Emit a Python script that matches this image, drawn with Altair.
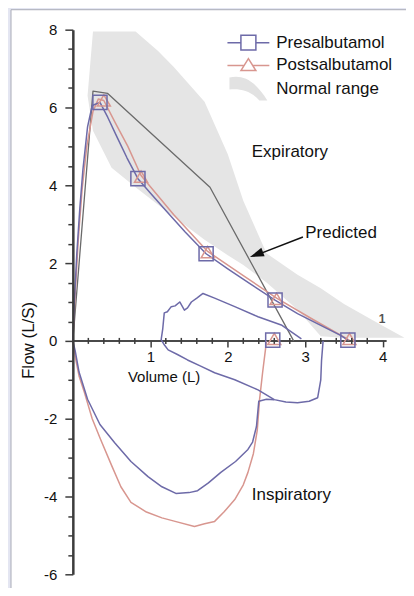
import altair as alt
import pandas as pd

# ---------------- data ----------------
# Normal range band (volume, upper flow, lower flow)
nr_vol = [0.19, 0.26, 0.50, 0.81, 1.10, 1.30, 1.70, 2.00, 2.20, 2.50, 2.90, 3.20, 3.50, 3.90, 4.28]
nr_upper = [6.30, 7.95, 7.95, 7.95, 7.45, 7.05, 6.15, 4.80, 3.60, 2.25, 1.70, 1.35, 0.95, 0.50, 0.08]
nr_lower = [6.30, 5.40, 4.45, 3.95, 3.50, 3.20, 2.60, 2.20, 1.95, 1.50, 0.80, 0.12, 0.08, 0.08, 0.08]

# Predicted expiratory curve
pred_vol = [0.00, 0.26, 0.45, 1.77, 2.85]
pred_flow = [0.00, 6.42, 6.36, 3.95, 0.00]

# Presalbutamol expiratory curve
pre_exp_vol = [0.00, 0.02, 0.05, 0.09, 0.13, 0.19, 0.25, 0.35, 0.45, 0.58, 0.70, 0.84, 1.00, 1.20, 1.45, 1.72, 2.00, 2.30, 2.61, 2.90, 3.20, 3.45, 3.55]
pre_exp_flow = [0.00, 1.00, 2.20, 3.40, 4.40, 5.50, 6.05, 6.13, 5.75, 5.20, 4.70, 4.17, 3.80, 3.35, 2.80, 2.24, 1.85, 1.45, 1.05, 0.70, 0.40, 0.15, 0.02]

# Postsalbutamol expiratory curve
post_exp_vol = [0.00, 0.03, 0.07, 0.12, 0.18, 0.26, 0.33, 0.40, 0.55, 0.71, 0.88, 1.30, 1.74, 2.20, 2.63, 3.10, 3.57]
post_exp_flow = [0.00, 1.20, 2.60, 3.90, 5.00, 5.90, 6.22, 6.18, 5.60, 5.00, 4.25, 3.25, 2.30, 1.68, 1.10, 0.55, 0.02]

# Presalbutamol inspiratory curve
pre_insp_vol = [0.00, 0.03, 0.08, 0.19, 0.35, 0.54, 0.75, 0.97, 1.15, 1.33, 1.50, 1.61, 1.75, 1.91, 2.10, 2.26, 2.32, 2.37, 2.40, 2.50, 2.60]
pre_insp_flow = [0.00, -0.25, -0.80, -1.50, -2.15, -2.62, -3.10, -3.49, -3.75, -3.92, -3.90, -3.85, -3.65, -3.38, -3.10, -2.79, -2.60, -2.20, -1.55, -1.50, -1.51]

# Postsalbutamol inspiratory curve
post_insp_vol = [0.00, 0.04, 0.08, 0.15, 0.25, 0.36, 0.50, 0.62, 0.75, 0.95, 1.15, 1.32, 1.57, 1.70, 1.83, 1.95, 2.09, 2.20, 2.26, 2.33, 2.38, 2.41, 2.45, 2.50]
post_insp_flow = [0.00, -0.50, -0.90, -1.33, -2.00, -2.54, -3.20, -3.75, -4.15, -4.40, -4.55, -4.64, -4.77, -4.70, -4.64, -4.40, -4.08, -3.70, -3.38, -2.90, -2.30, -1.51, -0.80, 0.00]

# Presalbutamol tidal loop
loop_vol = [2.95, 2.69, 2.39, 2.09, 1.83, 1.68, 1.60, 1.53, 1.48, 1.44, 1.38, 1.32, 1.27, 1.22, 1.18, 1.16, 1.14,
            1.18, 1.23, 1.35, 1.48, 1.65, 1.83, 2.09, 2.39, 2.60, 2.75, 2.90, 3.05, 3.16, 3.20, 3.21, 3.23]
loop_flow = [0.05, 0.41, 0.62, 0.88, 1.10, 1.22, 1.10, 1.00, 0.85, 0.79, 1.00, 0.90, 0.88, 0.75, 0.72, 0.30, 0.03,
             -0.10, -0.23, -0.35, -0.49, -0.65, -0.82, -1.00, -1.26, -1.51, -1.57, -1.59, -1.55, -1.46, -1.00, -0.50, 0.00]

# Markers
pre_mark_vol = [0.35, 0.84, 1.72, 2.61, 3.55, 2.58]
pre_mark_flow = [6.13, 4.17, 2.24, 1.05, 0.02, 0.02]
post_mark_vol = [0.40, 0.88, 1.74, 2.63, 3.57, 2.60]
post_mark_flow = [6.18, 4.22, 2.28, 1.08, 0.05, 0.05]

# Axis ticks
x_major = [1, 2, 3, 4]
x_minor = [0.2, 0.4, 0.6, 0.8, 1.2, 1.4, 1.6, 1.8, 2.2, 2.4, 2.6, 2.8,
           3.2, 3.4, 3.6, 3.8]
y_ticks = [-6, -5.5, -5, -4.5, -4, -3.5, -3, -2.5, -2, -1.5, -1, -0.5, 0, 0.5, 1, 1.5,
           2, 2.5, 3, 3.5, 4, 4.5, 5, 5.5, 6, 6.5, 7, 7.5, 8]

series_names = ["Presalbutamol", "Postsalbutamol", "Normal range"]

# Annotations
ann_text = ["Expiratory", "Inspiratory", "Predicted"]
ann_vol = [2.31, 2.31, 3.00]
ann_flow = [4.85, -3.95, 2.77]
arrow_vol = [2.97, 2.40]
arrow_flow = [2.67, 2.23]
arrow_head_vol = [2.37]
arrow_head_flow = [2.22]

# ---------------- styling ----------------
W, H = 334, 546
FONT = "Liberation Sans"
PRE_C = "#6d6aa8"
POST_C = "#d8968f"
PRED_C = "#6a6a6a"
BAND_C = "#e5e5e5"
AXIS_C = "#3c3c3c"

xs = alt.Scale(domain=[0, 4.3], nice=False, zero=False)
ys = alt.Scale(domain=[-6, 8], nice=False, zero=False)


def xy(vals_x, vals_y, extra=None):
    d = {"vol": vals_x, "flow": vals_y, "ord": list(range(len(vals_x)))}
    if extra:
        d.update(extra)
    return pd.DataFrame(d)


x_axis = alt.Axis(
    values=x_major,
    format="d",
    labelOverlap=False,
    labelFlush=False,
    offset=-H * 6 / 14,
    domain=False,
    grid=False,
    zindex=2,
    tickColor=AXIS_C,
    tickWidth=1.5,
    tickSize=6,
    labelPadding=3,
    labelFontSize=15,
    labelColor="#111",
    title="Volume (L)",
    titleFontSize=15,
    titleFontWeight="normal",
    titleColor="#111",
    titleX=91,
    titleY=36,
    titleAlign="center",
    titleBaseline="middle",
)

y_axis = alt.Axis(
    values=y_ticks,
    labelExpr="abs(datum.value % 2) < 0.01 ? '' + datum.value : ''",
    labelOverlap=False,
    domainColor=AXIS_C,
    domainWidth=2.5,
    grid=False,
    zindex=2,
    tickColor=AXIS_C,
    tickWidth=1.5,
    tickSize={"condition": {"test": "abs(datum.value % 2) < 0.01", "value": 8}, "value": 5},
    labelPadding=8,
    labelFontSize=15,
    labelColor="#111",
    title="Flow (L/S)",
    titleFontSize=17,
    titleFontWeight="normal",
    titleColor="#111",
    titleX=-44,
    titleY=311,
    titleAlign="center",
    titleBaseline="middle",
)


def enc(xf="vol", yf="flow"):
    return dict(x=alt.X(f"{xf}:Q", scale=xs, axis=x_axis), y=alt.Y(f"{yf}:Q", scale=ys, axis=y_axis))


# background panel
panel = alt.Chart(pd.DataFrame({"a": [0]})).mark_rect(
    fill="white", stroke="#a8aab6", strokeWidth=1
).encode(x=alt.value(-62), x2=alt.value(420), y=alt.value(-20), y2=alt.value(620))

band = alt.Chart(pd.DataFrame({"vol": nr_vol, "up": nr_upper, "lo": nr_lower})).mark_area(
    color=BAND_C, opacity=1
).encode(y2="lo:Q", **enc("vol", "up"))

x_line = alt.Chart(pd.DataFrame({"vol": [0.0], "vol2": [4.05], "flow": [0.0]})).mark_rule(
    color="#4a4a4a", strokeWidth=2
).encode(x2="vol2:Q", **enc())


def line(df, color, width=1.5):
    return alt.Chart(df).mark_line(color=color, strokeWidth=width, strokeJoin="round").encode(
        order="ord:Q", **enc()
    )


pred = line(xy(pred_vol, pred_flow), PRED_C, 1.3)
post_exp = line(xy(post_exp_vol, post_exp_flow), POST_C)
pre_exp = line(xy(pre_exp_vol, pre_exp_flow), PRE_C)
post_insp = line(xy(post_insp_vol, post_insp_flow), POST_C)
pre_insp = line(xy(pre_insp_vol, pre_insp_flow), PRE_C)
loop = line(xy(loop_vol, loop_flow), PRE_C)

post_marks = alt.Chart(xy(post_mark_vol, post_mark_flow)).mark_point(
    shape="triangle-up", size=170, filled=False, color=POST_C, strokeWidth=1.5, opacity=1
).encode(**enc())

pre_marks = alt.Chart(xy(pre_mark_vol, pre_mark_flow)).mark_point(
    shape="square", size=200, filled=False, color=PRE_C, strokeWidth=1.5, opacity=1
).encode(**enc())

labels = alt.Chart(pd.DataFrame({"t": ann_text, "vol": ann_vol, "flow": ann_flow})).mark_text(
    align="left", baseline="middle", font=FONT, fontSize=17, color="#111"
).encode(text="t:N", **enc())

arrow_shaft = line(xy(arrow_vol, arrow_flow), "#111", 1.5)
arrow_head = alt.Chart(xy(arrow_head_vol, arrow_head_flow)).mark_point(
    shape="M1,0L-1,-0.65L-1,0.65Z", size=196, filled=True, color="#111", angle=159, opacity=1
).encode(**enc())

# legend carrier (points placed outside the plot and clipped away)
leg_paths = [
    "M-2.1,0H-0.75M0.75,0H2.1M-0.75,-0.75H0.75V0.75H-0.75Z",
    "M-2.1,0.1H-0.45M0.45,0.1H2.1M-0.75,0.6L0,-0.6L0.75,0.6Z",
    "M-1.9,-1.1C-0.6,-1.4,0.6,-0.9,1.9,1.2L1.1,1.2C0.2,0.2,-0.8,0,-1.9,0.1Z",
]
leg_common = dict(
    orient="none", legendX=165, legendY=2, title=None, padding=0,
    labelFont=FONT, labelFontSize=17, labelColor="#111", labelOffset=17,
    symbolSize=400, symbolStrokeWidth=1.5, rowPadding=0,
)
legend_layer = alt.Chart(
    pd.DataFrame({"series": series_names, "vol": [-1.0] * 3, "flow": [-20.0] * 3})
).mark_point(clip=True, size=400, strokeWidth=1.5, opacity=1).encode(
    shape=alt.Shape("series:N", scale=alt.Scale(domain=series_names, range=leg_paths), legend=alt.Legend(**leg_common)),
    stroke=alt.Stroke("series:N", scale=alt.Scale(domain=series_names, range=[PRE_C, POST_C, "transparent"]), legend=alt.Legend(**leg_common)),
    fill=alt.Fill("series:N", scale=alt.Scale(domain=series_names, range=["transparent", "transparent", "#e2e2e2"]), legend=alt.Legend(**leg_common)),
    **enc(),
)

extra_one = alt.Chart(pd.DataFrame({"t": ["1"], "vol": [3.99], "flow": [0.55]})).mark_text(
    font=FONT, fontSize=12, fontWeight="bold", color="#555"
).encode(text="t:N", **enc())

main = alt.layer(
    panel, band, x_line, pred, post_exp, pre_exp, post_insp, pre_insp, loop,
    post_marks, pre_marks, labels, arrow_shaft, arrow_head, extra_one, legend_layer,
)

# minor x ticks in their own layer with independent (but identical) scales and no axes
minor_ticks = alt.Chart(
    pd.DataFrame({"vol": x_minor, "flow": [0.0] * len(x_minor)})
).mark_tick(orient="vertical", size=6, thickness=1.5, color=AXIS_C, opacity=1).encode(
    x=alt.X("vol:Q", scale=alt.Scale(domain=[0, 4.3], nice=False, zero=False), axis=None),
    y=alt.Y("flow:Q", scale=alt.Scale(domain=[-6, 8], nice=False, zero=False), axis=None),
)

chart = alt.layer(main, minor_ticks).resolve_scale(
    x="independent", y="independent"
).properties(
    width=W, height=H,
    autosize=alt.AutoSizeParams(type="none"),
    padding={"left": 65, "top": 21, "right": 0, "bottom": 13},
    background="#e4e6f2",
).configure_view(stroke=None).configure_axis(labelFont=FONT, titleFont=FONT)

chart.save("out.html", embed_options={"renderer": "svg", "actions": False})
